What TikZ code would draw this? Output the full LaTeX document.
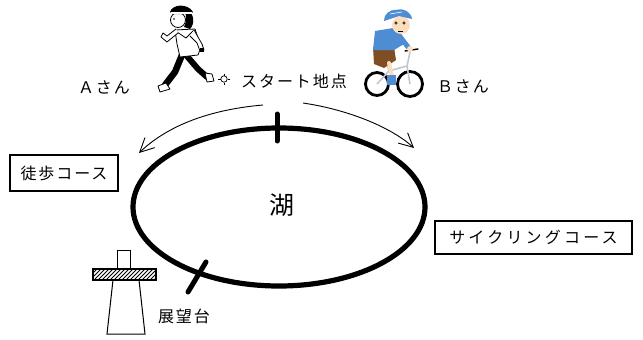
\documentclass[tikz,border=0pt]{standalone}
\usepackage{fontspec}
\newfontfamily\jp{Noto Sans CJK JP}[LetterSpace=12]
\newfontfamily\jpwide{Noto Sans CJK JP}[LetterSpace=20]
\usetikzlibrary{arrows.meta,shapes.geometric}
\definecolor{shirtblue}{RGB}{78,140,212}
\definecolor{shorts}{RGB}{128,78,36}
\definecolor{skin}{RGB}{252,222,190}
\definecolor{frame}{RGB}{190,200,205}
\begin{document}
\begin{tikzpicture}[x=1pt,y=-1pt,
  lbl/.style={font=\jp\fontsize{16}{16}\selectfont, inner sep=0pt},
  coursebox/.style={draw, line width=1.2pt, inner sep=0pt, font=\jp\fontsize{16}{16}\selectfont},
  route/.style={line width=0.9pt, -{Straight Barb[length=14pt,width=14pt,line width=0.9pt]}},
  marker/.style={line width=5pt, line cap=round},
  outline/.style={draw=black, line width=0.8pt, line join=round},
]
\useasboundingbox (0,0) rectangle (643,340);

% the lake
\node[draw, ellipse, line width=5.2pt, minimum width=292pt, minimum height=158pt] (lake) at (279,207) {};
\node[font=\jp\fontsize{25}{25}\selectfont, inner sep=0pt] (lakename) at (282,205) {湖};

% start mark and observation-deck mark on the shore
\coordinate (st1) at (277,114);
\coordinate (st2) at (277,141);
\draw[marker] (st1) -- (st2);
\coordinate (ob1) at (206,262);
\coordinate (ob2) at (188,292);
\draw[marker] (ob1) -- (ob2);

% direction arrows
\coordinate (wa) at (263,105);
\coordinate (wb) at (139,153);
\draw[route] (wa) .. controls (205,110) and (165,128) .. (wb);
\coordinate (ca) at (303,103);
\coordinate (cb) at (414,148);
\draw[route] (ca) .. controls (350,110) and (392,128) .. (cb);

% labels
\node[lbl] (a) at (104,87) {Ａさん};
\node[lbl] (start) at (294,81) {スタート地点};
\node[lbl] (b) at (463,86) {Ｂさん};
\node[lbl] (deck) at (184,316) {展望台};
\node[coursebox, minimum width=108pt, minimum height=36pt] (walk) at (64,173) {徒歩コース};
\node[coursebox, minimum width=197pt, minimum height=33pt, font=\jpwide\fontsize{16}{16}\selectfont] (cycle) at (533.5,237.5) {サイクリングコース};

% observation deck
\draw[line width=1pt] (117,250) rectangle (130,269);
\begin{scope}
  \clip (93,269) rectangle (156,280);
  \foreach \hx in {82,86,...,158} \draw[line width=1pt] (\hx,280) -- ({\hx+11},269);
\end{scope}
\draw[line width=1.2pt] (93,269) rectangle (156,280);
\draw[line width=1pt] (113,280) -- (107,334) -- (145,334) -- (139,280);

% runner
\begin{scope}
  % legs
  \draw[line width=6pt, line cap=round, line join=round] (186,55) -- (198,69) -- (207,77);
  \draw[line width=6.5pt, line cap=round, line join=round] (182,55) -- (175,72) -- (165,85);
  \draw[outline, fill=white] (205,73) -- (212,74) -- (214,81) -- (207,82) -- cycle;
  \draw[outline, fill=white] (158,86) -- (166,83) -- (170,89) -- (160,92) -- cycle;
  % torso and arms
  \draw[outline, fill=white] (175,30) -- (195,29) -- (201,47) -- (198,55) -- (180,57) -- (177,44) -- cycle;
  \draw[outline] (177,32) -- (186,38) -- (194,30);
  \draw[outline, fill=white] (178,33) -- (167,42) -- (161,37) -- (163,33) -- (167,36) -- (176,29);
  \draw[outline, fill=white] (194,30) -- (202,44) -- (204,50) -- (200,51) -- (197,43) -- (190,36);
  \fill (200,48) rectangle (204,52);
  % head
  \draw[outline, fill=white] (178,20) circle [radius=7.5];
  \fill (185,9) .. controls (195,12) and (195,24) .. (190,29) -- (184,27) .. controls (187,22) and (186,15) .. cycle;
  \fill (170,12) .. controls (172,4) and (188,3) .. (193,12) -- (190,14) -- (172,14) -- cycle;
  \draw[white, line width=1.6pt] (171,13) -- (192,13);
  \fill (174,19) circle [radius=0.9];
  % dust puff
  \draw[line width=0.7pt, fill=white] (224,79) circle [radius=3.2];
  \draw[line width=0.7pt] (218,79) -- (220.5,79) (227.5,79) -- (230,79) (224,73.5) -- (224,75.5) (224,82.5) -- (224,84.5);
\end{scope}

% cyclist
\begin{scope}
  % bicycle
  \draw[line width=2.8pt] (377,84) circle [radius=11.5];
  \draw[line width=2.8pt] (410,84) circle [radius=12.5];
  \draw[frame, line width=1.6pt, line join=round] (377,84) -- (389,71) -- (407,66) -- (410,84) (389,71) -- (386,60) (407,66) -- (410,52);
  \draw[line width=1.4pt, line cap=round] (405,51) -- (418,49);
  % shorts and leg
  \fill[shorts] (373,47) -- (394,47) -- (396,60) -- (384,68) -- (374,64) -- cycle;
  \draw[skin, line width=4pt, line cap=round] (389,63) -- (392,76);
  \fill[shirtblue] (387,75) rectangle (396,85);
  % shirt and arm
  \fill[shirtblue] (375,31) -- (399,27) -- (404,44) -- (394,50) -- (373,50) -- cycle;
  \draw[shirtblue, line width=5pt, line cap=round] (398,34) -- (408,47);
  \fill[skin] (410,49) circle [radius=3];
  % head and helmet
  \fill[skin] (401,25) circle [radius=9];
  \draw[line width=0.5pt] (396,23) circle [radius=1.3] (404,23) circle [radius=1.3];
  \draw[line width=0.6pt] (398,31) -- (403,31);
  \fill[shirtblue] (384,21) .. controls (383,7) and (410,4) .. (412,19) -- (399,16) -- cycle;
  \draw[white, line width=0.6pt] (392,10) -- (400,9) (390,14) -- (402,12);
\end{scope}
\end{tikzpicture}
\end{document}
